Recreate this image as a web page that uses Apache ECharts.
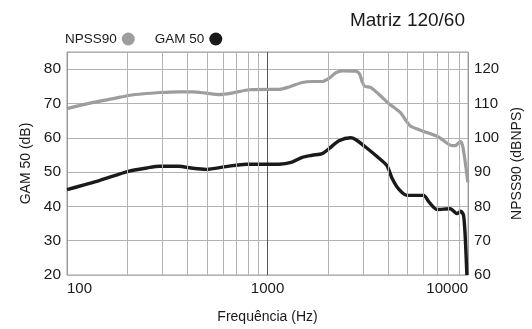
<!DOCTYPE html>
<html>
<head>
<meta charset="utf-8">
<script src="https://cdn.jsdelivr.net/npm/echarts@6/dist/echarts.min.js"></script>
<style>
  html, body { margin: 0; padding: 0; background: #fff; }
  #chart { width: 532px; height: 329px; }
</style>
</head>
<body>
<div id="chart"></div>
<script>
// NPSS90 (right axis, dBNPS)
var npssFreq = [100, 135, 170, 206, 250, 290, 360, 425, 495, 577, 672, 813, 1023, 1141, 1280, 1490, 1670, 1875, 2023, 2185,
  2356, 2747, 2875, 2962, 3055, 3263, 3586, 4022, 4599, 4904, 5158, 6124, 7133, 8305, 8637, 9144, 9389, 9683, 9977];
var npssValues = [108.5, 110.3, 111.4, 112.4, 112.9, 113.2, 113.4, 113.4, 113.0, 112.6, 113.1, 114.0, 114.1, 114.1, 114.8, 116.1, 116.4, 116.4, 117.3, 118.9,
  119.5, 119.4, 118.6, 116.4, 115.0, 114.7, 112.7, 110.0, 107.3, 105.0, 103.4, 101.7, 100.2, 97.7, 97.7, 98.9, 97.7, 92.8, 87.0];

// GAM 50 (left axis, dB)
var gamFreq = [100, 146, 202, 250, 290, 360, 425, 495, 620, 785, 1023, 1141, 1325, 1490, 1670, 1875, 2023, 2270, 2594, 2747,
  3081, 3586, 3945, 4178, 4512, 4961, 6005, 6360, 6995, 8152, 8796, 9209, 9497, 9683, 9863];
var gamValues = [44.9, 47.6, 50.2, 51.2, 51.7, 51.7, 51.1, 50.8, 51.6, 52.3, 52.3, 52.3, 52.9, 54.3, 54.9, 55.4, 56.8, 59.1, 60.0, 59.5,
  57.3, 54.1, 51.8, 48.2, 45.0, 43.2, 43.2, 41.4, 39.1, 39.3, 37.9, 38.6, 37.3, 30.9, 20.0];

// minor vertical grid lines of the log axis
var minorFreq = [200, 300, 400, 500, 600, 700, 800, 900, 2000, 3000, 4000, 5000, 6000, 7000, 8000, 9000];

var font = '"Liberation Sans", Arial, sans-serif';
var textColor = '#1a1a1a';

function pairs(xs, ys) {
  return xs.map(function (x, i) { return [x, ys[i]]; });
}

var chart = echarts.init(document.getElementById('chart'));
var option = {
  animation: false,
  textStyle: { fontFamily: font },
  title: {
    text: 'Matriz 120/60',
    right: 62,
    top: 6,
    textStyle: { fontFamily: font, fontSize: 19, fontWeight: 'normal', color: textColor }
  },
  legend: {
    left: 60,
    top: 27,
    align: 'right',
    icon: 'circle',
    itemWidth: 13,
    itemHeight: 13,
    itemGap: 20,
    textStyle: { fontFamily: font, fontSize: 13.5, color: textColor },
    data: ['NPSS90', 'GAM 50']
  },
  grid: {
    left: 67,
    right: 62,
    top: 52,
    bottom: 40,
    show: true,
    borderColor: '#9a9a9a',
    borderWidth: 1
  },
  xAxis: {
    type: 'log',
    logBase: 10,
    min: 100,
    max: 10000,
    name: 'Frequência (Hz)',
    nameLocation: 'middle',
    nameGap: 35,
    nameTextStyle: { fontFamily: font, fontSize: 14, color: textColor },
    axisLine: { show: false },
    axisTick: { show: false },
    axisLabel: {
      fontFamily: font, fontSize: 15, color: textColor, margin: 6,
      alignMinLabel: 'left', alignMaxLabel: 'right',
      formatter: function (v) { return String(Math.round(v)); }
    },
    splitLine: { show: true, lineStyle: { color: ['#9a9a9a', '#555', '#9a9a9a'], width: 1 } }
  },
  yAxis: [{
    type: 'value',
    min: 20,
    max: 85,
    interval: 10,
    name: 'GAM 50 (dB)',
    nameLocation: 'middle',
    nameGap: 34,
    nameTextStyle: { fontFamily: font, fontSize: 14, color: textColor },
    axisLine: { show: false },
    axisTick: { show: false },
    axisLabel: { fontFamily: font, fontSize: 15.5, color: textColor, margin: 6, showMaxLabel: false },
    splitLine: { show: true, lineStyle: { color: '#b3b3b3', width: 1 } }
  }, {
    type: 'value',
    min: 60,
    max: 125,
    interval: 10,
    name: 'NPSS90 (dBNPS)',
    nameLocation: 'middle',
    nameGap: 40,
    nameTextStyle: { fontFamily: font, fontSize: 14, color: textColor },
    axisLine: { show: false },
    axisTick: { show: false },
    axisLabel: { fontFamily: font, fontSize: 15, color: textColor, margin: 6, showMaxLabel: false },
    splitLine: { show: false }
  }],
  series: [{
    name: 'minor',
    type: 'line',
    data: [],
    z: 1,
    silent: true,
    markLine: {
      silent: true,
      symbol: 'none',
      label: { show: false },
      lineStyle: { color: '#b3b3b3', type: 'solid', width: 1 },
      data: minorFreq.map(function (f) { return { xAxis: f }; })
    }
  }, {
    name: 'NPSS90',
    type: 'line',
    yAxisIndex: 1,
    z: 3,
    data: pairs(npssFreq, npssValues),
    showSymbol: false,
    smooth: 0.25,
    itemStyle: { color: '#9d9d9d' },
    lineStyle: { color: '#9d9d9d', width: 3.2 }
  }, {
    name: 'GAM 50',
    type: 'line',
    yAxisIndex: 0,
    z: 4,
    data: pairs(gamFreq, gamValues),
    showSymbol: false,
    smooth: 0.25,
    itemStyle: { color: '#1a1a1a' },
    lineStyle: { color: '#1a1a1a', width: 3.4 }
  }]
};
chart.setOption(option);
</script>
</body>
</html>
